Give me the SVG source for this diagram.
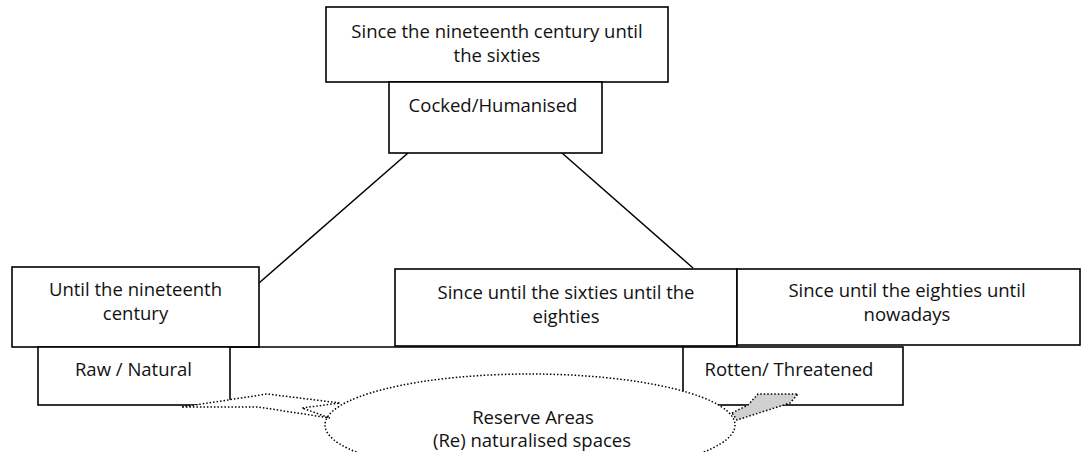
<svg xmlns="http://www.w3.org/2000/svg" width="1082" height="452" viewBox="0 0 1082 452">
<style>
.box{fill:#fff;stroke:#000;stroke-width:1.6}
.ln{fill:none;stroke:#000;stroke-width:1.5}
.dot{stroke:#000;stroke-width:1.5;stroke-dasharray:1.5 2}
text{font-family:"Open Sans","Liberation Sans",sans-serif;font-size:18.5px;fill:#111;text-anchor:middle}
</style>
<rect width="1082" height="452" fill="#fff"/>
<g id="connectors">
<line class="ln" x1="408" y1="153" x2="259" y2="283"/>
<line class="ln" x1="562" y1="153" x2="693" y2="268"/>
</g>
<g id="n-top">
<rect class="box" x="326" y="7" width="342" height="75"/>
<text x="497" y="38">Since the nineteenth century until</text>
<text x="497" y="62">the sixties</text>
</g>
<g id="n-cocked">
<rect class="box" x="389" y="82" width="213" height="71"/>
<text x="493" y="112">Cocked/Humanised</text>
</g>
<g id="n-until19">
<rect class="box" x="12" y="267" width="247" height="80"/>
<text x="135.5" y="296">Until the nineteenth</text>
<text x="135.5" y="320">century</text>
</g>
<g id="n-sixties">
<rect class="box" x="395" y="269" width="342" height="77"/>
<text x="566" y="299">Since until the sixties until the</text>
<text x="566" y="323">eighties</text>
</g>
<g id="n-eighties">
<rect class="box" x="737" y="269" width="343" height="76"/>
<text x="907" y="297">Since until the eighties until</text>
<text x="907" y="321">nowadays</text>
</g>
<g id="bar">
<line class="ln" x1="230" y1="347" x2="683" y2="347"/>
</g>
<g id="n-raw">
<rect class="box" x="38" y="347" width="192" height="58"/>
<text x="133.5" y="376">Raw / Natural</text>
</g>
<g id="n-rotten">
<rect class="box" x="683" y="347" width="220" height="58"/>
<text x="789" y="376">Rotten/ Threatened</text>
</g>
<g id="n-reserve">
<ellipse class="dot" cx="530" cy="425" rx="205" ry="51" fill="#fff"/>
<text x="533" y="424">Reserve Areas</text>
<text x="532" y="447">(Re) naturalised spaces</text>
</g>
<g id="arrow-left">
<polygon class="dot" fill="#fff" points="182,407 267,394 340,403 302,408 330,418 258,407"/>
</g>
<g id="arrow-right">
<polygon class="dot" fill="#d0d0d0" points="732,413 748,405 758,394 798,394 790,403 737,420"/>
</g>
</svg>
